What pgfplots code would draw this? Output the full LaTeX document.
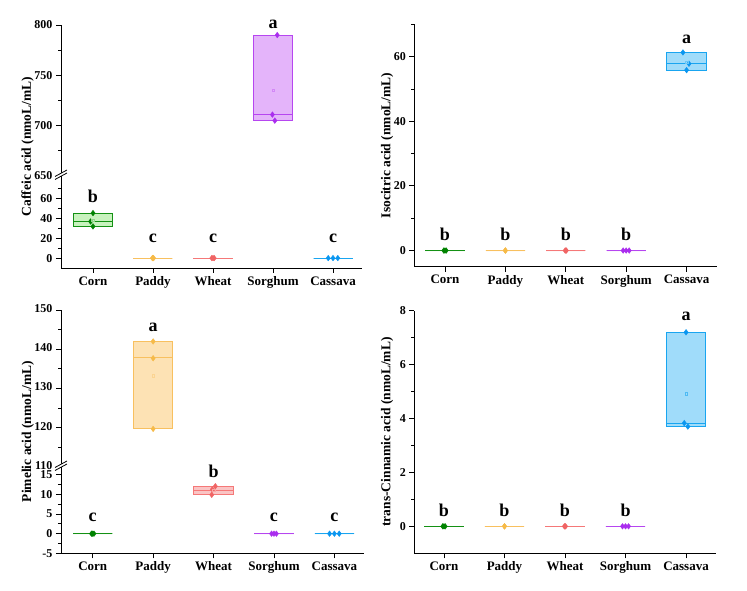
\documentclass[border=0pt]{standalone}
\usepackage{pgfplots}
\pgfplotsset{compat=1.18}
\usepgfplotslibrary{statistics}
\usepackage{fontspec}
\setmainfont{Liberation Serif}

\definecolor{cornL}{RGB}{20,145,20}
\definecolor{cornF}{RGB}{200,242,190}
\definecolor{cornP}{RGB}{0,130,0}
\definecolor{padL}{RGB}{248,192,95}
\definecolor{padF}{RGB}{253,226,180}
\definecolor{padP}{RGB}{246,186,72}
\definecolor{wheL}{RGB}{245,120,120}
\definecolor{wheF}{RGB}{250,196,196}
\definecolor{wheP}{RGB}{240,100,100}
\definecolor{sorL}{RGB}{182,70,240}
\definecolor{sorF}{RGB}{228,180,250}
\definecolor{sorP}{RGB}{170,45,238}
\definecolor{casL}{RGB}{25,165,240}
\definecolor{casF}{RGB}{160,220,250}
\definecolor{casP}{RGB}{10,150,240}

\tikzset{ltr/.style={font=\bfseries\fontsize{18}{18}\selectfont}}

\pgfplotsset{
  panel/.style={
    scale only axis, clip=false,
    tick align=outside,
    major tick length=5pt, minor tick length=3pt,
    every tick/.style={black, line width=0.8pt},
    axis line style={black, line width=0.8pt},
    /pgf/number format/assume math mode=true,
    yticklabel={\textbf{\pgfmathprintnumber{\tick}}},
    yticklabel style={font=\bfseries\fontsize{12}{12}\selectfont},
    xticklabel style={font=\bfseries\fontsize{13}{13}\selectfont},
    xtick={0,1,2,3,4},
    xticklabels={Corn,Paddy,Wheat,Sorghum,Cassava},
    boxplot/draw direction=y,
  },
  lowpanel/.style={panel, axis lines*=left},
  uppanel/.style={panel, axis x line=none, axis y line*=left},
  bx/.style={line width=0.9pt},
  pts/.style={only marks, mark=diamond*, mark size=2.8pt},
  mn/.style={only marks, mark=square, mark size=1.3pt, line width=0.4pt},
}

\newcommand{\bp}[7]{%
  \addplot[bx, draw=#1, fill=#2, boxplot prepared={lower whisker=#4, lower quartile=#4, median=#5, upper quartile=#6, upper whisker=#6, draw position=#3, box extend=0.65, whisker extend=0}] coordinates {};
}

\begin{document}
\begin{tikzpicture}
\path[use as bounding box] (0,0) rectangle (747pt,591pt);

% ================= Panel 1: Caffeic acid (broken) =================
\begin{axis}[lowpanel, at={(61pt,323pt)}, anchor=south west,
  width=301pt, height=92pt, xmin=-0.533, xmax=4.483,
  ymin=-10, ymax=83, ytick={0,20,40,60}, minor ytick={10,30,50,70}]
  \bp{cornL}{cornF}{0}{32}{37.2}{45.4}{}
  \bp{padL}{padF}{1}{0}{0}{0}{}
  \bp{wheL}{wheF}{2}{0}{0}{0}{}
  \bp{casL}{casF}{4}{0}{0}{0}{}
  \addplot[pts, color=cornP] coordinates {(0.0,45.5) (-0.04,37.0) (0.0,32.0)};
  \addplot[pts, color=padP] coordinates {(1.0,0) (1.01,0) (0.99,0)};
  \addplot[pts, color=wheP] coordinates {(1.98,0) (2.0,0) (2.02,0)};
  \addplot[pts, color=casP] coordinates {(3.92,0) (4.0,0) (4.08,0)};
  \addplot[mn, color=cornF!70!cornL] coordinates {(0,38.2)};
  \node[ltr] at (axis cs:0,62) {b};
  \node[ltr] at (axis cs:1,20) {c};
  \node[ltr] at (axis cs:2,20) {c};
  \node[ltr] at (axis cs:4,20) {c};
\end{axis}
\begin{axis}[uppanel, at={(61pt,415pt)}, anchor=south west,
  width=301pt, height=151pt, xmin=-0.533, xmax=4.483,
  ymin=650, ymax=800, ytick={650,700,750,800}, minor ytick={675,725,775}]
  \bp{sorL}{sorF}{3}{705}{711}{790}{}
  \addplot[pts, color=sorP] coordinates {(3.07,790) (2.99,711) (3.03,705)};
  \addplot[mn, color=sorF!60!sorL] coordinates {(3,735.3)};
  \node[ltr] at (axis cs:3,801) {a};
\end{axis}
\fill[white] (55pt,411.5pt) -- (67pt,418pt) -- (67pt,421pt) -- (55pt,414.5pt) -- cycle;
\draw[line width=0.8pt] (55pt,411.5pt) -- (67pt,418pt);
\draw[line width=0.8pt] (55pt,414.5pt) -- (67pt,421pt);
\node[rotate=90, font=\bfseries\fontsize{13.5}{13.5}\selectfont] at (27.5pt,444.5pt) {Caffeic acid (nmoL/mL)};

% ================= Panel 2: Isocitric acid =================
\begin{axis}[lowpanel, at={(414.3pt,324.3pt)}, anchor=south west,
  width=302.4pt, height=242.4pt, xmin=-0.508, xmax=4.499,
  ymin=-5, ymax=70, ytick={0,20,40,60}, minor ytick={10,30,50,70}]
  \bp{cornL}{cornF}{0}{0}{0}{0}{}
  \bp{padL}{padF}{1}{0}{0}{0}{}
  \bp{wheL}{wheF}{2}{0}{0}{0}{}
  \bp{sorL}{sorF}{3}{0}{0}{0}{}
  \bp{casL}{casF}{4}{55.8}{58.0}{61.4}{}
  \addplot[pts, color=cornP] coordinates {(-0.02,0) (0.0,0) (0.02,0)};
  \addplot[pts, color=padP] coordinates {(1.0,0) (1.0,0) (1.0,0)};
  \addplot[pts, color=wheP] coordinates {(1.99,0) (2.0,0) (2.01,0)};
  \addplot[pts, color=sorP] coordinates {(2.95,0) (3.0,0) (3.05,0)};
  \addplot[pts, color=casP] coordinates {(3.94,61.3) (4.04,57.8) (4.0,55.8)};
  \addplot[mn, color=casF!60!casL] coordinates {(4,58.3)};
  \node[ltr] at (axis cs:0,5.1) {b};
  \node[ltr] at (axis cs:1,5.1) {b};
  \node[ltr] at (axis cs:2,5.1) {b};
  \node[ltr] at (axis cs:3,5.1) {b};
  \node[ltr] at (axis cs:4,65.4) {a};
\end{axis}
\node[rotate=90, font=\bfseries\fontsize{13.5}{13.5}\selectfont] at (387pt,445.5pt) {Isocitric acid (nmoL/mL)};

% ================= Panel 3: Pimelic acid (broken) =================
\begin{axis}[lowpanel, at={(61pt,37.7pt)}, anchor=south west,
  width=303pt, height=86.3pt, xmin=-0.525, xmax=4.49,
  ymin=-5, ymax=17, ytick={-5,0,5,10,15}, minor ytick={-2.5,2.5,7.5,12.5}]
  \bp{cornL}{cornF}{0}{0}{0}{0}{}
  \bp{wheL}{wheF}{2}{9.9}{11.1}{12.1}{}
  \bp{sorL}{sorF}{3}{0}{0}{0}{}
  \bp{casL}{casF}{4}{0}{0}{0}{}
  \addplot[pts, color=cornP] coordinates {(-0.02,0) (0.0,0) (0.02,0)};
  \addplot[pts, color=wheP] coordinates {(2.03,12.1) (1.98,11.3) (1.97,9.9)};
  \addplot[pts, color=sorP] coordinates {(2.96,0) (3.0,0) (3.04,0)};
  \addplot[pts, color=casP] coordinates {(3.92,0) (4.0,0) (4.08,0)};
  \addplot[mn, color=wheF!60!wheL] coordinates {(2,11.1)};
  \node[ltr] at (axis cs:0,4.2) {c};
  \node[ltr] at (axis cs:2,15.8) {b};
  \node[ltr] at (axis cs:3,4.2) {c};
  \node[ltr] at (axis cs:4,4.2) {c};
\end{axis}
\begin{axis}[uppanel, at={(61pt,124pt)}, anchor=south west,
  width=303pt, height=157pt, xmin=-0.525, xmax=4.49,
  ymin=110, ymax=150, ytick={110,120,130,140,150}, minor ytick={115,125,135,145},
  yticklabel style={yshift=1.5pt}]
  \bp{padL}{padF}{1}{119.8}{137.8}{142.0}{}
  \addplot[pts, color=padP] coordinates {(1.0,142.0) (1.0,137.7) (1.0,119.7)};
  \addplot[mn, color=padF!60!padL] coordinates {(1,133.2)};
  \node[ltr] at (axis cs:1,145.5) {a};
\end{axis}
\fill[white] (55pt,120.5pt) -- (67pt,127pt) -- (67pt,130pt) -- (55pt,123.5pt) -- cycle;
\draw[line width=0.8pt] (55pt,120.5pt) -- (67pt,127pt);
\draw[line width=0.8pt] (55pt,123.5pt) -- (67pt,130pt);
\node[rotate=90, font=\bfseries\fontsize{13.5}{13.5}\selectfont] at (28pt,159.4pt) {Pimelic acid (nmoL/mL)};

% ================= Panel 4: trans-Cinnamic acid =================
\begin{axis}[lowpanel, at={(414.3pt,37.7pt)}, anchor=south west,
  width=302pt, height=242.6pt, xmin=-0.49, xmax=4.5,
  ymin=-1, ymax=8, ytick={0,2,4,6,8}, minor ytick={1,3,5,7}]
  \bp{cornL}{cornF}{0}{0}{0}{0}{}
  \bp{padL}{padF}{1}{0}{0}{0}{}
  \bp{wheL}{wheF}{2}{0}{0}{0}{}
  \bp{sorL}{sorF}{3}{0}{0}{0}{}
  \bp{casL}{casF}{4}{3.7}{3.83}{7.2}{}
  \addplot[pts, color=cornP] coordinates {(-0.02,0) (0.0,0) (0.02,0)};
  \addplot[pts, color=padP] coordinates {(1.0,0) (1.0,0) (1.0,0)};
  \addplot[pts, color=wheP] coordinates {(1.99,0) (2.0,0) (2.01,0)};
  \addplot[pts, color=sorP] coordinates {(2.95,0) (3.0,0) (3.05,0)};
  \addplot[pts, color=casP] coordinates {(4.0,7.2) (3.97,3.83) (4.03,3.7)};
  \addplot[mn, color=casF!40!casL] coordinates {(4,4.91)};
  \node[ltr] at (axis cs:0,0.6) {b};
  \node[ltr] at (axis cs:1,0.6) {b};
  \node[ltr] at (axis cs:2,0.6) {b};
  \node[ltr] at (axis cs:3,0.6) {b};
  \node[ltr] at (axis cs:4,7.8) {a};
\end{axis}
\node[rotate=90, font=\bfseries\fontsize{13.5}{13.5}\selectfont] at (387pt,159pt) {trans-Cinnamic acid (nmoL/mL)};
\end{tikzpicture}
\end{document}
